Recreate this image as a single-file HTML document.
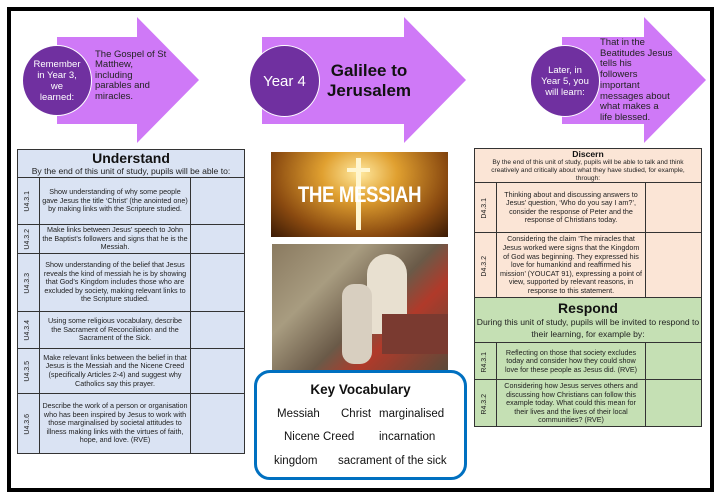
<!DOCTYPE html>
<html><head><meta charset="utf-8"><style>
*{margin:0;padding:0;box-sizing:border-box}
body{width:720px;height:499px;background:#fff;position:relative;overflow:hidden;font-family:"Liberation Sans",sans-serif;}
.abs{position:absolute}
.circ{position:absolute;background:#7030a0;border:1.5px solid #fff;border-radius:50%;color:#fff;display:flex;align-items:center;justify-content:center;text-align:center}
table{border-collapse:collapse;position:absolute;font-size:7.2px;line-height:8.6px;color:#222;table-layout:fixed}
td{border:1px solid #333;text-align:center;vertical-align:middle;padding:0 2px;overflow:hidden}
.code{padding:0}
.code span{display:inline-block;transform:rotate(-90deg);white-space:nowrap;font-size:7px}
.vw{position:absolute;font-size:11.5px;color:#111;white-space:nowrap}
</style></head><body>
<div class="abs" style="left:7px;top:7px;width:707px;height:485px;border:4px solid #000;"></div>

<svg class="abs" style="left:0;top:0" width="720" height="150">
<polygon points="57,37 137,37 137,17 199,80 137,143 137,124 57,124" fill="#cf79f7"/>
<polygon points="262,37 404,37 404,17 466,80 404,143 404,124 262,124" fill="#cf79f7"/>
<polygon points="562,37 644,37 644,17 706,80 644,143 644,124 562,124" fill="#cf79f7"/>
</svg>
<div class="circ" style="left:22px;top:45px;width:70px;height:71px;font-size:9.5px;line-height:11px">Remember<br>in Year 3,<br>we<br>learned:</div>
<div class="abs" style="left:95px;top:50px;font-size:9.5px;line-height:10.4px;color:#222">The Gospel of St<br>Matthew,<br>including<br>parables and<br>miracles.</div>
<div class="circ" style="left:249px;top:45px;width:71px;height:72px;font-size:15px">Year 4</div>
<div class="abs" style="left:322px;top:61px;width:94px;text-align:center;font-size:17px;font-weight:bold;line-height:20px;color:#111">Galilee to<br>Jerusalem</div>
<div class="circ" style="left:530px;top:45px;width:70px;height:72px;font-size:9.5px;line-height:11px">Later, in<br>Year 5, you<br>will learn:</div>
<div class="abs" style="left:600px;top:38px;font-size:9.5px;line-height:10.7px;color:#222">That in the<br>Beatitudes Jesus<br>tells his<br>followers<br>important<br>messages about<br>what makes a<br>life blessed.</div>

<table style="left:17px;top:149px;width:228px;background:#dae3f3">
<colgroup><col style="width:22px"><col style="width:151px"><col></colgroup>
<tr style="height:28px"><td colspan="3" style="padding:0"><div style="font-size:14px;font-weight:bold;line-height:15px;color:#111">Understand</div><div style="font-size:8.6px;line-height:11px;color:#222">By the end of this unit of study, pupils will be able to:</div></td></tr>
<tr style="height:47px"><td class="code"><span>U4.3.1</span></td><td>Show understanding of why some people gave Jesus the title ‘Christ’ (the anointed one) by making links with the Scripture studied.</td><td></td></tr>
<tr style="height:29px"><td class="code"><span>U4.3.2</span></td><td>Make links between Jesus’ speech to John the Baptist’s followers and signs that he is the Messiah.</td><td></td></tr>
<tr style="height:58px"><td class="code"><span>U4.3.3</span></td><td>Show understanding of the belief that Jesus reveals the kind of messiah he is by showing that God’s Kingdom includes those who are excluded by society, making relevant links to the Scripture studied.</td><td></td></tr>
<tr style="height:37px"><td class="code"><span>U4.3.4</span></td><td>Using some religious vocabulary, describe the Sacrament of Reconciliation and the Sacrament of the Sick.</td><td></td></tr>
<tr style="height:45px"><td class="code"><span>U4.3.5</span></td><td>Make relevant links between the belief in that Jesus is the Messiah and the Nicene Creed (specifically Articles 2-4) and suggest why Catholics say this prayer.</td><td></td></tr>
<tr style="height:60px"><td class="code"><span>U4.3.6</span></td><td>Describe the work of a person or organisation who has been inspired by Jesus to work with those marginalised by societal attitudes to illness making links with the virtues of faith, hope, and love. (RVE)</td><td></td></tr>
</table>

<div class="abs" style="left:271px;top:152px;width:177px;height:85px;background:radial-gradient(ellipse at 50% 25%,#ffe9a0 0%,#e0a030 30%,#8a4a10 70%,#3a1a05 100%)">
<div class="abs" style="left:85px;top:6px;width:5px;height:72px;background:#fff6d0"></div>
<div class="abs" style="left:76px;top:16px;width:23px;height:4px;background:#fff6d0"></div>
<div class="abs" style="left:0;top:30px;width:177px;text-align:center;font-size:22px;font-weight:bold;color:#fff;letter-spacing:-0.5px;transform:scaleX(0.85)">THE MESSIAH</div>
</div>
<div class="abs" style="left:272px;top:244px;width:176px;height:126px;background:linear-gradient(135deg,#8a7a60 0%,#a89c80 30%,#6a5a48 55%,#b03a2a 70%,#5a4a3a 100%)">
<div class="abs" style="left:95px;top:10px;width:40px;height:80px;background:#e8e0d0;border-radius:20px 20px 4px 4px"></div>
<div class="abs" style="left:70px;top:40px;width:30px;height:80px;background:#d8cfc0;border-radius:12px"></div>
<div class="abs" style="left:110px;top:70px;width:66px;height:40px;background:#7a3a30"></div>
</div>

<div class="abs" style="left:254px;top:370px;width:213px;height:110px;border:3px solid #0070c0;border-radius:16px;background:#fff"></div>
<div class="abs" style="left:254px;top:382px;width:213px;text-align:center;font-size:13.5px;font-weight:bold;color:#111">Key Vocabulary</div>
<div class="vw" style="left:277px;top:408px">Messiah</div>
<div class="vw" style="left:341px;top:408px">Christ</div>
<div class="vw" style="left:379px;top:408px">marginalised</div>
<div class="vw" style="left:284px;top:431px">Nicene Creed</div>
<div class="vw" style="left:379px;top:431px">incarnation</div>
<div class="vw" style="left:274px;top:455px">kingdom</div>
<div class="vw" style="left:338px;top:455px">sacrament of the sick</div>

<table style="left:474px;top:148px;width:228px;background:#fbe5d6">
<colgroup><col style="width:22px"><col style="width:149px"><col></colgroup>
<tr style="height:30px"><td colspan="3" style="padding:0 6px"><div style="font-size:8.6px;font-weight:bold;line-height:10px;color:#111">Discern</div><div style="font-size:6.6px;line-height:7.8px">By the end of this unit of study, pupils will be able to talk and think creatively and critically about what they have studied, for example, through:</div></td></tr>
<tr style="height:50px"><td class="code"><span>D4.3.1</span></td><td>Thinking about and discussing answers to Jesus’ question, ‘Who do you say I am?’, consider the response of Peter and the response of Christians today.</td><td></td></tr>
<tr style="height:65px"><td class="code"><span>D4.3.2</span></td><td>Considering the claim ‘The miracles that Jesus worked were signs that the Kingdom of God was beginning. They expressed his love for humankind and reaffirmed his mission’ (YOUCAT 91), expressing a point of view, supported by relevant reasons, in response to this statement.</td><td></td></tr>
<tr style="height:45px;background:#c5e0b4"><td colspan="3" style="padding:0"><div style="font-size:14px;font-weight:bold;line-height:15px;color:#111">Respond</div><div style="font-size:8.6px;line-height:12px;color:#222">During this unit of study, pupils will be invited to respond to their learning, for example by:</div></td></tr>
<tr style="height:37px;background:#c5e0b4"><td class="code"><span>R4.3.1</span></td><td>Reflecting on those that society excludes today and consider how they could show love for these people as Jesus did. (RVE)</td><td></td></tr>
<tr style="height:47px;background:#c5e0b4"><td class="code"><span>R4.3.2</span></td><td>Considering how Jesus serves others and discussing how Christians can follow this example today. What could this mean for their lives and the lives of their local communities? (RVE)</td><td></td></tr>
</table>
</body></html>
